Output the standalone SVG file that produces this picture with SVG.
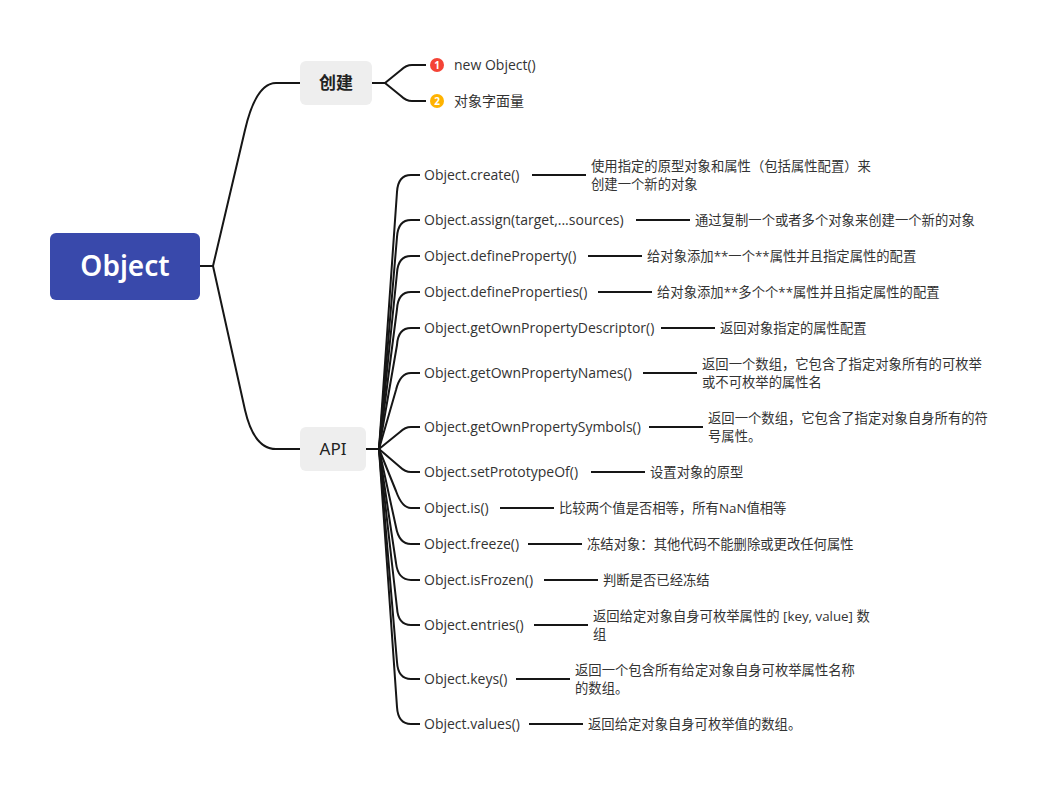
<svg xmlns="http://www.w3.org/2000/svg" width="1058" height="789" viewBox="0 0 1058 789">
<style>
.c{fill:none;stroke:#161616;stroke-width:2;stroke-linejoin:round}
.l{font-family:"Open Sans","Noto Sans CJK SC",sans-serif;font-size:14px;fill:#333}
.d{font-family:"Open Sans","Noto Sans CJK SC",sans-serif;font-size:13.33px;fill:#333}
.b{font-family:"Noto Sans","Noto Sans CJK SC",sans-serif;font-size:17px;fill:#222;text-anchor:middle}
.n{font-family:"Open Sans",sans-serif;font-size:10px;font-weight:700;fill:#fff;text-anchor:middle}
</style>
<rect width="1058" height="789" fill="#fff"/>
<g id="connectors">
<path class="c" d="M200 266H213L245 130Q256 83 276 83H300"/>
<path class="c" d="M213 266L245 410Q254 449 276 449H300"/>
<path class="c" d="M372 83H385L401 70Q406 65 412 65H426"/>
<path class="c" d="M385 83L401 96Q406 101 412 101H426"/>
<path class="c" d="M366 449H379"/>
<path class="c" d="M379 449L397 192Q398 175 411 175H420"/>
<path class="c" d="M379 449L397 237Q398 220 411 220H420"/>
<path class="c" d="M379 449L397 273Q398 256 411 256H420"/>
<path class="c" d="M379 449L397 309Q398 292 411 292H420"/>
<path class="c" d="M379 449L397 345Q398 328 411 328H420"/>
<path class="c" d="M379 449L396 390Q400 373 411 373H420"/>
<path class="c" d="M379 449L400 432Q405 427 411 427H420"/>
<path class="c" d="M379 449L400 467Q405 472 411 472H420"/>
<path class="c" d="M379 449L396 491Q402 508 411 508H420"/>
<path class="c" d="M379 449L396 527Q399 544 411 544H420"/>
<path class="c" d="M379 449L396 563Q398 580 411 580H420"/>
<path class="c" d="M379 449L397 608Q398 625 411 625H420"/>
<path class="c" d="M379 449L397 662Q398 679 411 679H420"/>
<path class="c" d="M379 449L397 707Q398 724 411 724H420"/>
<path class="c" d="M532 175H586M636 220H690M588 256H642M598 292H652M661 328H715M643 373H697M649 427H703M591 472H645M500 508H554M528 544H582M544 580H598M534 625H588M516 679H570M529 724H583"/>
</g>
<g id="root"><rect x="50" y="233" width="150" height="67" rx="6" fill="#3949ab"/><text x="125" y="276" font-family="Noto Sans,sans-serif" font-size="28" font-weight="600" fill="#fff" text-anchor="middle">Object</text></g>
<g id="create"><rect x="300" y="61" width="72" height="44" rx="6" fill="#eee"/><text class="b" x="336" y="89" font-weight="700">创建</text></g>
<g id="api"><rect x="300" y="427" width="66" height="44" rx="6" fill="#eee"/><text class="b" x="333" y="455">API</text></g>
<g id="new"><circle cx="437" cy="65" r="7" fill="#f44336"/><text class="n" x="437" y="69">1</text><text class="l" x="454" y="70">new Object()</text></g>
<g id="literal"><circle cx="437" cy="101" r="7" fill="#ffb300"/><text class="n" x="437" y="105">2</text><text class="l" x="454" y="106">对象字面量</text></g>
<g id="r1"><text class="l" x="424" y="180">Object.create()</text><text class="d" x="591" y="171">使用指定的原型对象和属性（包括属性配置）来</text><text class="d" x="591" y="189">创建一个新的对象</text></g>
<g id="r2"><text class="l" x="424" y="225">Object.assign(target,...sources)</text><text class="d" x="695" y="225">通过复制一个或者多个对象来创建一个新的对象</text></g>
<g id="r3"><text class="l" x="424" y="261">Object.defineProperty()</text><text class="d" x="647" y="261">给对象添加**一个**属性并且指定属性的配置</text></g>
<g id="r4"><text class="l" x="424" y="297">Object.defineProperties()</text><text class="d" x="657" y="297">给对象添加**多个个**属性并且指定属性的配置</text></g>
<g id="r5"><text class="l" x="424" y="333">Object.getOwnPropertyDescriptor()</text><text class="d" x="720" y="333">返回对象指定的属性配置</text></g>
<g id="r6"><text class="l" x="424" y="378">Object.getOwnPropertyNames()</text><text class="d" x="702" y="369">返回一个数组，它包含了指定对象所有的可枚举</text><text class="d" x="702" y="387">或不可枚举的属性名</text></g>
<g id="r7"><text class="l" x="424" y="432">Object.getOwnPropertySymbols()</text><text class="d" x="708" y="423">返回一个数组，它包含了指定对象自身所有的符</text><text class="d" x="708" y="441">号属性。</text></g>
<g id="r8"><text class="l" x="424" y="477">Object.setPrototypeOf()</text><text class="d" x="650" y="477">设置对象的原型</text></g>
<g id="r9"><text class="l" x="424" y="513">Object.is()</text><text class="d" x="559" y="513">比较两个值是否相等，所有NaN值相等</text></g>
<g id="r10"><text class="l" x="424" y="549">Object.freeze()</text><text class="d" x="587" y="549">冻结对象：其他代码不能删除或更改任何属性</text></g>
<g id="r11"><text class="l" x="424" y="585">Object.isFrozen()</text><text class="d" x="603" y="585">判断是否已经冻结</text></g>
<g id="r12"><text class="l" x="424" y="630">Object.entries()</text><text class="d" x="593" y="621">返回给定对象自身可枚举属性的 [key, value] 数</text><text class="d" x="593" y="639">组</text></g>
<g id="r13"><text class="l" x="424" y="684">Object.keys()</text><text class="d" x="575" y="675">返回一个包含所有给定对象自身可枚举属性名称</text><text class="d" x="575" y="693">的数组。</text></g>
<g id="r14"><text class="l" x="424" y="729">Object.values()</text><text class="d" x="588" y="729">返回给定对象自身可枚举值的数组。</text></g>
</svg>
